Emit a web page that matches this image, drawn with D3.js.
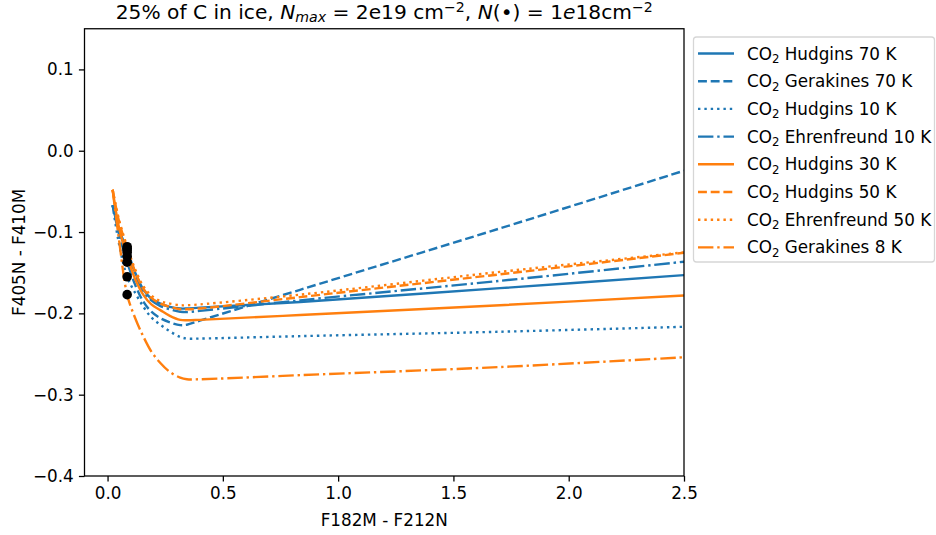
<!DOCTYPE html>
<html>
<head>
<meta charset="utf-8">
<script src="https://cdn.jsdelivr.net/npm/d3@7"></script>
<style>
  html, body { margin: 0; padding: 0; background: #fff; }
  svg { display: block; font-family: "DejaVu Sans", sans-serif; }
  text { white-space: pre; }
</style>
</head>
<body>
<svg id="chart" width="936" height="535"></svg>
<script>
// Colour index F182M - F212N sampled along the column-density track
const colourX = [0.022, 0.05, 0.085, 0.12, 0.156, 0.19, 0.229, 0.27, 0.315, 0.344, 0.4, 0.835, 1.702, 2.5];

// F405N - F410M for each laboratory CO2 ice profile
const hudgins70     = [-0.067, -0.097, -0.122, -0.150, -0.171, -0.182, -0.188, -0.192, -0.194, -0.194, -0.193, -0.186, -0.169, -0.153];
const gerakines70   = [-0.067, -0.103, -0.137, -0.165, -0.186, -0.198, -0.206, -0.211, -0.2145, -0.214, -0.209, -0.171, -0.0955, -0.0246];
const hudgins10     = [-0.067, -0.115, -0.155, -0.175, -0.192, -0.205, -0.214, -0.222, -0.229, -0.231, -0.231, -0.228, -0.2226, -0.2165];
const ehrenfreund10 = [-0.067, -0.099, -0.125, -0.152, -0.173, -0.184, -0.191, -0.195, -0.198, -0.1985, -0.197, -0.184, -0.160, -0.1365];
const hudgins30     = [-0.048, -0.095, -0.130, -0.158, -0.1775, -0.189, -0.196, -0.203, -0.208, -0.2085, -0.208, -0.202, -0.190, -0.178];
const hudgins50     = [-0.048, -0.087, -0.120, -0.149, -0.170, -0.181, -0.188, -0.192, -0.195, -0.195, -0.194, -0.180, -0.152, -0.1255];
const ehrenfreund50 = [-0.048, -0.085, -0.118, -0.146, -0.167, -0.178, -0.185, -0.188, -0.190, -0.190, -0.189, -0.177, -0.149, -0.125];
const gerakines8    = [-0.048, -0.110, -0.177, -0.206, -0.229, -0.247, -0.261, -0.272, -0.279, -0.281, -0.281, -0.276, -0.266, -0.254];

// Position of the N = 1e18 cm^-2 marker along every track
const markerIndex = 2;

const seriesNames = [
  "Hudgins 70 K", "Gerakines 70 K", "Hudgins 10 K", "Ehrenfreund 10 K",
  "Hudgins 30 K", "Hudgins 50 K", "Ehrenfreund 50 K", "Gerakines 8 K"
];
const seriesValues = [hudgins70, gerakines70, hudgins10, ehrenfreund10,
                      hudgins30, hudgins50, ehrenfreund50, gerakines8];

const xTicks = [0.0, 0.5, 1.0, 1.5, 2.0, 2.5];
const yTicks = [-0.4, -0.3, -0.2, -0.1, 0.0, 0.1];

// Styling
const blue = "#1f77b4", orange = "#ff7f0e";
const lw = 2.4;
const fs = 16.8, titleFs = 20.2;
const dashed = "8.9,3.8", dotted = "2.4,3.96", dashdot = "15.4,3.84,2.4,3.84";
const styles = [
  { color: blue,   dash: null },
  { color: blue,   dash: dashed },
  { color: blue,   dash: dotted },
  { color: blue,   dash: dashdot },
  { color: orange, dash: null },
  { color: orange, dash: dashed },
  { color: orange, dash: dotted },
  { color: orange, dash: dashdot }
];

const svg = d3.select("#chart");
const plotL = 84.5, plotR = 684, plotT = 28.75, plotB = 476;

const x = d3.scaleLinear().domain([-0.1, 2.5]).range([plotL, plotR]);
const y = d3.scaleLinear().domain([-0.4, 0.15]).range([plotB, plotT]);

svg.append("defs").append("clipPath").attr("id", "plotclip")
  .append("rect").attr("x", plotL).attr("y", plotT)
  .attr("width", plotR - plotL).attr("height", plotB - plotT);

// Tracks
const line = d3.line()
  .x((d, i) => x(colourX[i]))
  .y(d => y(d))
  .curve(d3.curveCatmullRom.alpha(0.5));

const plot = svg.append("g").attr("clip-path", "url(#plotclip)");
seriesValues.forEach((vals, k) => {
  plot.append("path")
    .attr("d", line(vals))
    .attr("fill", "none")
    .attr("stroke", styles[k].color)
    .attr("stroke-width", lw)
    .attr("stroke-dasharray", styles[k].dash)
    .attr("stroke-linecap", "butt")
    .attr("stroke-linejoin", "round");
});

// N = 1e18 markers
plot.selectAll("circle.marker")
  .data(seriesValues)
  .enter().append("circle")
  .attr("class", "marker")
  .attr("cx", () => x(colourX[markerIndex]))
  .attr("cy", d => y(d[markerIndex]))
  .attr("r", 4.8)
  .attr("fill", "#000");

// Axes
const fmt = d3.format(".1f");
const xAxis = svg.append("g").attr("transform", `translate(0,${plotB})`)
  .call(d3.axisBottom(x).tickValues(xTicks).tickFormat(fmt)
        .tickSize(5.6).tickPadding(5.0).tickSizeOuter(0));
const yAxis = svg.append("g").attr("transform", `translate(${plotL},0)`)
  .call(d3.axisLeft(y).tickValues(yTicks).tickFormat(fmt)
        .tickSize(5.6).tickPadding(5.2).tickSizeOuter(0));
[xAxis, yAxis].forEach(g => {
  g.select(".domain").remove();
  g.selectAll("line").attr("stroke", "#000").attr("stroke-width", 1.28);
  g.selectAll("text").attr("font-size", fs).attr("fill", "#000")
    .attr("font-family", "DejaVu Sans, sans-serif");
});

// Frame
svg.append("rect")
  .attr("x", plotL).attr("y", plotT)
  .attr("width", plotR - plotL).attr("height", plotB - plotT)
  .attr("fill", "none").attr("stroke", "#000").attr("stroke-width", 1.28);

// Axis labels
svg.append("text")
  .attr("x", (plotL + plotR) / 2).attr("y", 526)
  .attr("text-anchor", "middle").attr("font-size", fs)
  .text("F182M - F212N");
svg.append("text")
  .attr("transform", `translate(25,${(plotT + plotB) / 2}) rotate(-90)`)
  .attr("text-anchor", "middle").attr("font-size", fs)
  .text("F405N - F410M");

// Title
const subFs = titleFs * 0.7;
const title = svg.append("text")
  .attr("x", (plotL + plotR) / 2).attr("y", 19)
  .attr("text-anchor", "middle").attr("font-size", titleFs);
title.append("tspan").text("25% of C in ice, ");
title.append("tspan").attr("font-style", "italic").text("N");
title.append("tspan").attr("font-style", "italic").attr("font-size", subFs).attr("dy", 3).text("max");
title.append("tspan").attr("dy", -3).text(" = 2e19 cm");
title.append("tspan").attr("font-size", subFs).attr("dy", -7).text("\u22122");
title.append("tspan").attr("dy", 7).text(", ");
title.append("tspan").attr("font-style", "italic").text("N");
title.append("tspan").text("(\u2022) = 1");
title.append("tspan").attr("font-style", "italic").text("e");
title.append("tspan").text("18cm");
title.append("tspan").attr("font-size", subFs).attr("dy", -7).text("\u22122");

// Legend
const legend = svg.append("g");
legend.append("rect")
  .attr("x", 693.5).attr("y", 37).attr("width", 241).attr("height", 225)
  .attr("rx", 3).attr("ry", 3)
  .attr("fill", "#fff").attr("fill-opacity", 0.8)
  .attr("stroke", "#d6d6d6").attr("stroke-width", 1.28);
seriesNames.forEach((name, k) => {
  const cy = 53.5 + k * 27.7;
  legend.append("line")
    .attr("x1", 698).attr("x2", 734).attr("y1", cy).attr("y2", cy)
    .attr("stroke", styles[k].color).attr("stroke-width", lw)
    .attr("stroke-dasharray", styles[k].dash);
  const t = legend.append("text").attr("x", 747).attr("y", cy + 6)
    .attr("font-size", fs).attr("fill", "#000");
  t.append("tspan").text("CO");
  t.append("tspan").attr("font-size", fs * 0.7).attr("dy", 3.5).text("2");
  t.append("tspan").attr("dy", -3.5).text(" " + name);
});
</script>
</body>
</html>
